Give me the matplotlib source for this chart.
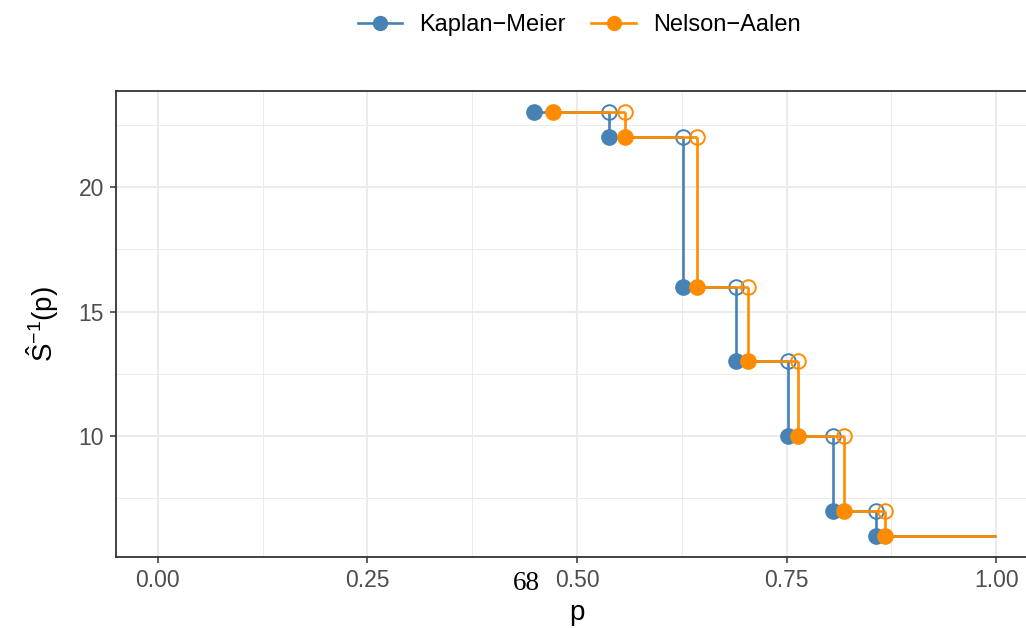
import matplotlib
matplotlib.use("Agg")
import matplotlib.pyplot as plt
from matplotlib.lines import Line2D

# Data
km_p = [0.449, 0.538, 0.627, 0.690, 0.752, 0.806, 0.857]
na_p = [0.471, 0.557, 0.643, 0.704, 0.764, 0.818, 0.867]
quant = [23, 22, 16, 13, 10, 7, 6]
p_end = 1.0
x_ticks = [0.0, 0.25, 0.5, 0.75, 1.0]
x_ticklabels = ["0.00", "0.25", "0.50", "0.75", "1.00"]
y_ticks = [10, 15, 20]
annot_text = "68"
annot_x = 0.440

km_col = "#4682B4"
na_col = "#FF8C00"

plt.rcParams['font.family'] = ['Liberation Sans', 'DejaVu Sans']
plt.rcParams['mathtext.fontset'] = 'custom'
plt.rcParams['mathtext.rm'] = 'Liberation Sans'
plt.rcParams['mathtext.it'] = 'Liberation Sans'

fig = plt.figure(figsize=(10.26, 6.28), dpi=100)
ax = fig.add_axes([116/1026, 1-557/628, (1038-116)/1026, (557-91)/628])

ax.set_xlim(-0.05, 1.05)
ax.set_ylim(5.15, 23.85)

# grid
for v in [0.125, 0.375, 0.625, 0.875]:
    ax.axvline(v, color="#EBEBEB", lw=0.7, zorder=0)
for v in [7.5, 12.5, 17.5, 22.5]:
    ax.axhline(v, color="#EBEBEB", lw=0.7, zorder=0)
for v in x_ticks:
    ax.axvline(v, color="#EBEBEB", lw=1.5, zorder=0)
for v in y_ticks:
    ax.axhline(v, color="#EBEBEB", lw=1.5, zorder=0)

def draw_steps(px, col, z):
    n = len(px)
    for i in range(n):
        x0 = px[i]
        x1 = px[i+1] if i+1 < n else p_end
        ax.plot([x0, x1], [quant[i], quant[i]], color=col, lw=1.9, zorder=z, solid_capstyle='butt')
        if i+1 < n:
            ax.plot([x1, x1], [quant[i], quant[i+1]], color=col, lw=1.9, zorder=z, solid_capstyle='butt')
            ax.plot([x1], [quant[i]], marker='o', ms=10.5, mfc='none', mec=col, mew=1.4,
                    zorder=z+0.5, linestyle='none')
    ax.plot(px, quant, marker='o', ms=11, color=col, linestyle='none', zorder=z+0.6)

draw_steps(km_p, km_col, 2)
draw_steps(na_p, na_col, 3)

ax.set_xticks(x_ticks)
ax.set_xticklabels(x_ticklabels)
ax.set_yticks(y_ticks)
ax.tick_params(axis='both', colors="#333333", labelcolor="#4D4D4D", labelsize=16.5,
               length=4.5, width=1.1, pad=4)
for s in ax.spines.values():
    s.set_color("#333333")
    s.set_linewidth(1.3)

ax.set_xlabel("p", fontsize=20, labelpad=6)
ax.set_ylabel(r"$\hat{S}^{-1}$(p)", fontsize=20, labelpad=13)

ax.text(annot_x, -0.030, annot_text, transform=ax.get_xaxis_transform(),
        ha='center', va='top', fontsize=19.5, family='Liberation Serif', color='black')

handles = [Line2D([0], [0], color=km_col, marker='o', ms=10, lw=1.9),
           Line2D([0], [0], color=na_col, marker='o', ms=10, lw=1.9)]
fig.legend(handles, ["Kaplan\u2212Meier", "Nelson\u2212Aalen"], loc='center',
           bbox_to_anchor=(579/1026, 1-25/628), ncol=2, frameon=False, fontsize=17,
           handlelength=1.9, columnspacing=1.1, handletextpad=0.7)

fig.savefig("out.png", dpi=100)
